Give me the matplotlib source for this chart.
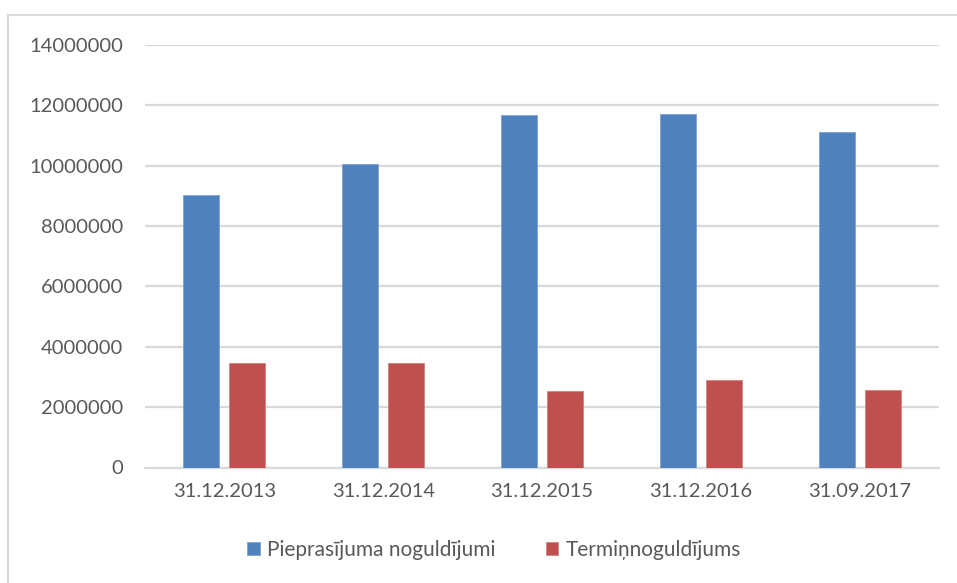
import numpy as np
import matplotlib
matplotlib.use("Agg")
import matplotlib.pyplot as plt
from matplotlib.lines import Line2D

categories = ["31.12.2013", "31.12.2014", "31.12.2015", "31.12.2016", "31.09.2017"]
demand_deposits = [9020000, 10050000, 11680000, 11710000, 11130000]
term_deposits = [3450000, 3470000, 2520000, 2910000, 2560000]
series_names = ["Pieprasījuma noguldījumi", "Termiņnoguldījums"]
yticks = list(range(0, 14000001, 2000000))

plt.rcParams['font.family'] = ['Lato', 'DejaVu Sans']
TEXT = '#595959'
GRID = '#D9D9D9'

fig = plt.figure(figsize=(9.57, 5.83), dpi=100)
ax = fig.add_axes([145/957, 1 - 467.5/583, (939 - 145)/957, (467.5 - 45)/583])

x = np.arange(len(categories))
w = 0.226
off = 0.145
ax.bar(x - off, demand_deposits, w, color='#4F81BD', edgecolor='#7FA3D1', linewidth=0.6,
       label=series_names[0], zorder=3)
ax.bar(x + off, term_deposits, w, color='#C0504D', edgecolor='#D4817F', linewidth=0.6,
       label=series_names[1], zorder=3)

ax.set_xlim(-0.5, len(categories) - 0.5)
ax.set_ylim(0, 14000000)
ax.set_yticks(yticks)
ax.set_yticklabels([str(v) for v in yticks])
ax.set_xticks(x)
ax.set_xticklabels(categories)
ax.yaxis.grid(True, color=GRID, linewidth=1.6, zorder=0)
ax.set_axisbelow(True)
for s in ['top', 'right', 'left']:
    ax.spines[s].set_visible(False)
ax.spines['bottom'].set_color(GRID)
ax.spines['bottom'].set_linewidth(1.6)
ax.tick_params(axis='both', length=0, colors=TEXT, labelsize=14.5)
ax.tick_params(axis='y', pad=16)
ax.tick_params(axis='x', pad=11)

leg = fig.legend(loc='center', bbox_to_anchor=(494/957, 1 - 550/583), ncol=2, frameon=False,
                 fontsize=15, handlelength=0.6, handleheight=0.6, handletextpad=0.35,
                 columnspacing=2.4)
for t in leg.get_texts():
    t.set_color(TEXT)

# chart frame
fig.add_artist(Line2D([8/957, 8/957], [0, 1 - 14.5/583], transform=fig.transFigure,
                      color=GRID, linewidth=1.5))
fig.add_artist(Line2D([8/957, 1], [1 - 14.5/583, 1 - 14.5/583], transform=fig.transFigure,
                      color=GRID, linewidth=1.5))

fig.savefig("out.png", dpi=100, facecolor='white')
